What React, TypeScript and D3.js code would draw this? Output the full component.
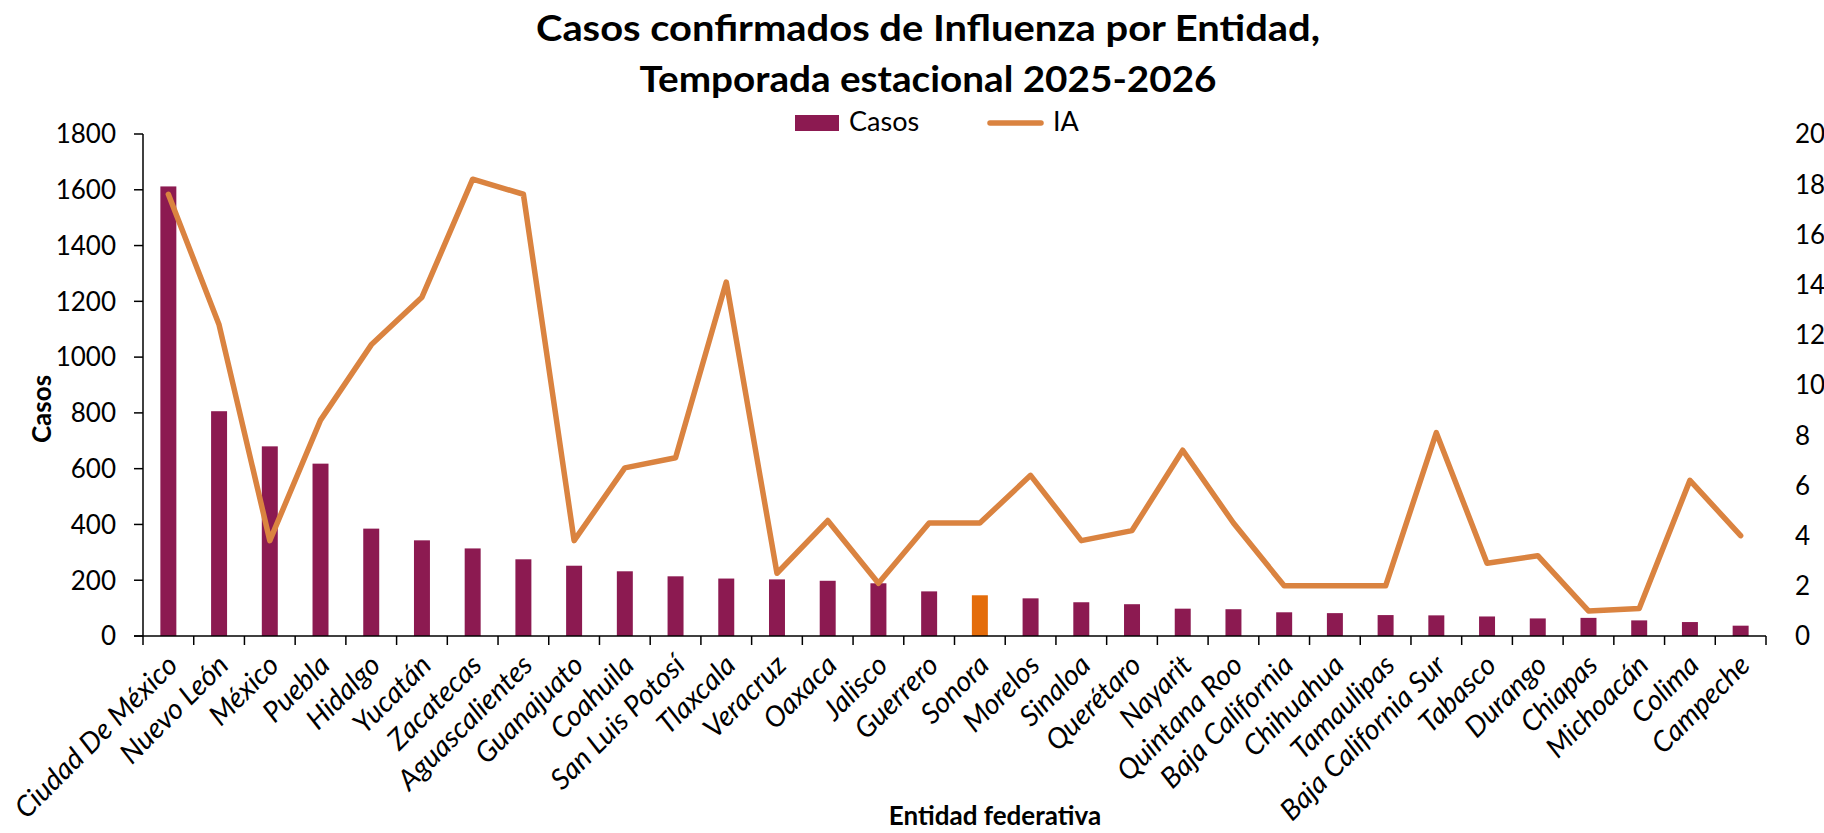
import { useEffect, useRef } from "react";
import * as d3 from "d3";

const entidades = [
  "Ciudad De México", "Nuevo León", "México", "Puebla", "Hidalgo", "Yucatán",
  "Zacatecas", "Aguascalientes", "Guanajuato", "Coahuila", "San Luis Potosí",
  "Tlaxcala", "Veracruz", "Oaxaca", "Jalisco", "Guerrero", "Sonora", "Morelos",
  "Sinaloa", "Querétaro", "Nayarit", "Quintana Roo", "Baja California",
  "Chihuahua", "Tamaulipas", "Baja California Sur", "Tabasco", "Durango",
  "Chiapas", "Michoacán", "Colima", "Campeche",
];

const casos = [
  1612, 806, 680, 618, 385, 343, 314, 275, 252, 232, 214, 206, 203, 198, 189,
  160, 146, 135, 121, 114, 98, 96, 85, 82, 75, 74, 70, 63, 65, 56, 50, 37,
];

const ia = [
  17.6, 12.4, 3.8, 8.6, 11.6, 13.5, 18.2, 17.6, 3.8, 6.7, 7.1, 14.1, 2.5, 4.6,
  2.1, 4.5, 4.5, 6.4, 3.8, 4.2, 7.4, 4.5, 2.0, 2.0, 2.0, 8.1, 2.9, 3.2, 1.0,
  1.1, 6.2, 4.0,
];

const casosTicks = [0, 200, 400, 600, 800, 1000, 1200, 1400, 1600, 1800];
const iaTicks = [0, 2, 4, 6, 8, 10, 12, 14, 16, 18, 20];
const destacada = "Sonora";

const FONT = "Lato, 'Open Sans', sans-serif";

export default function App() {
  const ref = useRef<SVGSVGElement | null>(null);

  useEffect(() => {
    const width = 1824;
    const height = 833;
    const left = 143;
    const right = 1766;
    const top = 134;
    const bottom = 636;

    const svg = d3.select(ref.current);
    svg.selectAll("*").remove();
    svg.attr("width", width).attr("height", height);

    const x = d3
      .scaleBand()
      .domain(entidades)
      .range([left, right])
      .paddingInner(0.685)
      .paddingOuter(0.3425);
    const step = (right - left) / entidades.length;

    const y = d3.scaleLinear().domain([0, 1800]).range([bottom, top]);
    const y2 = d3.scaleLinear().domain([0, 20]).range([bottom, top]);

    // titulo
    svg
      .append("text")
      .attr("x", 928)
      .attr("y", 41)
      .attr("text-anchor", "middle")
      .attr("font-family", FONT)
      .attr("font-weight", "bold")
      .attr("font-size", 36)
      .attr("textLength", 784)
      .attr("lengthAdjust", "spacingAndGlyphs")
      .text("Casos confirmados de Influenza por Entidad,");
    svg
      .append("text")
      .attr("x", 928)
      .attr("y", 92)
      .attr("text-anchor", "middle")
      .attr("font-family", FONT)
      .attr("font-weight", "bold")
      .attr("font-size", 36)
      .attr("textLength", 577)
      .attr("lengthAdjust", "spacingAndGlyphs")
      .text("Temporada estacional 2025-2026");

    // leyenda
    svg
      .append("rect")
      .attr("x", 795)
      .attr("y", 115)
      .attr("width", 44)
      .attr("height", 16)
      .attr("fill", "#8C1A51");
    svg
      .append("text")
      .attr("x", 849)
      .attr("y", 131)
      .attr("font-family", FONT)
      .attr("font-size", 27)
      .text("Casos");
    svg
      .append("line")
      .attr("x1", 990)
      .attr("x2", 1041)
      .attr("y1", 123)
      .attr("y2", 123)
      .attr("stroke", "#DA8340")
      .attr("stroke-width", 5.5)
      .attr("stroke-linecap", "round");
    svg
      .append("text")
      .attr("x", 1053)
      .attr("y", 131)
      .attr("font-family", FONT)
      .attr("font-size", 27)
      .text("IA");

    // barras
    svg
      .append("g")
      .selectAll("rect")
      .data(entidades)
      .enter()
      .append("rect")
      .attr("x", (d) => x(d)!)
      .attr("y", (d, i) => y(casos[i]))
      .attr("width", x.bandwidth())
      .attr("height", (d, i) => bottom - y(casos[i]))
      .attr("fill", (d) => (d === destacada ? "#E46C0A" : "#8C1A51"));

    // linea IA
    const line = d3
      .line<number>()
      .x((d, i) => x(entidades[i])! + x.bandwidth() / 2)
      .y((d) => y2(d));
    svg
      .append("path")
      .datum(ia)
      .attr("d", line)
      .attr("fill", "none")
      .attr("stroke", "#DA8340")
      .attr("stroke-width", 5.5)
      .attr("stroke-linejoin", "round")
      .attr("stroke-linecap", "round");

    // eje y izquierdo
    const gy = svg.append("g").attr("font-family", FONT).attr("font-size", 26);
    gy.append("line")
      .attr("x1", left)
      .attr("x2", left)
      .attr("y1", top)
      .attr("y2", bottom)
      .attr("stroke", "#000")
      .attr("stroke-width", 1.5);
    casosTicks.forEach((t) => {
      gy.append("line")
        .attr("x1", left - 9)
        .attr("x2", left)
        .attr("y1", y(t))
        .attr("y2", y(t))
        .attr("stroke", "#000")
        .attr("stroke-width", 1.5);
      gy.append("text")
        .attr("x", 116)
        .attr("y", y(t))
        .attr("dy", "0.36em")
        .attr("text-anchor", "end")
        .text(t);
    });

    // eje y derecho
    const gy2 = svg.append("g").attr("font-family", FONT).attr("font-size", 26);
    iaTicks.forEach((t) => {
      gy2
        .append("text")
        .attr("x", 1795)
        .attr("y", y2(t))
        .attr("dy", "0.36em")
        .text(t);
    });

    // eje x
    const gx = svg.append("g");
    gx.append("line")
      .attr("x1", left - 9)
      .attr("x2", right)
      .attr("y1", bottom)
      .attr("y2", bottom)
      .attr("stroke", "#000")
      .attr("stroke-width", 1.5);
    d3.range(entidades.length + 1).forEach((k) => {
      gx.append("line")
        .attr("x1", left + k * step)
        .attr("x2", left + k * step)
        .attr("y1", bottom)
        .attr("y2", bottom + 9)
        .attr("stroke", "#000")
        .attr("stroke-width", 1.5);
    });
    gx.selectAll("text.cat")
      .data(entidades)
      .enter()
      .append("text")
      .attr("class", "cat")
      .attr("font-family", FONT)
      .attr("font-style", "italic")
      .attr("font-size", 28.5)
      .attr("text-anchor", "end")
      .attr(
        "transform",
        (d) => `translate(${x(d)! + x.bandwidth() / 2 + 11},${bottom + 31}) rotate(-45)`
      )
      .text((d) => d);

    // titulos de ejes
    svg
      .append("text")
      .attr("transform", `translate(51,409) rotate(-90)`)
      .attr("text-anchor", "middle")
      .attr("font-family", FONT)
      .attr("font-weight", "bold")
      .attr("font-size", 26)
      .text("Casos");
    svg
      .append("text")
      .attr("x", 995)
      .attr("y", 825)
      .attr("text-anchor", "middle")
      .attr("font-family", FONT)
      .attr("font-weight", "bold")
      .attr("font-size", 26)
      .text("Entidad federativa");
  }, []);

  return (
    <svg
      ref={ref}
      style={{ position: "absolute", left: 0, top: 0, display: "block", background: "#fff" }}
    />
  );
}
